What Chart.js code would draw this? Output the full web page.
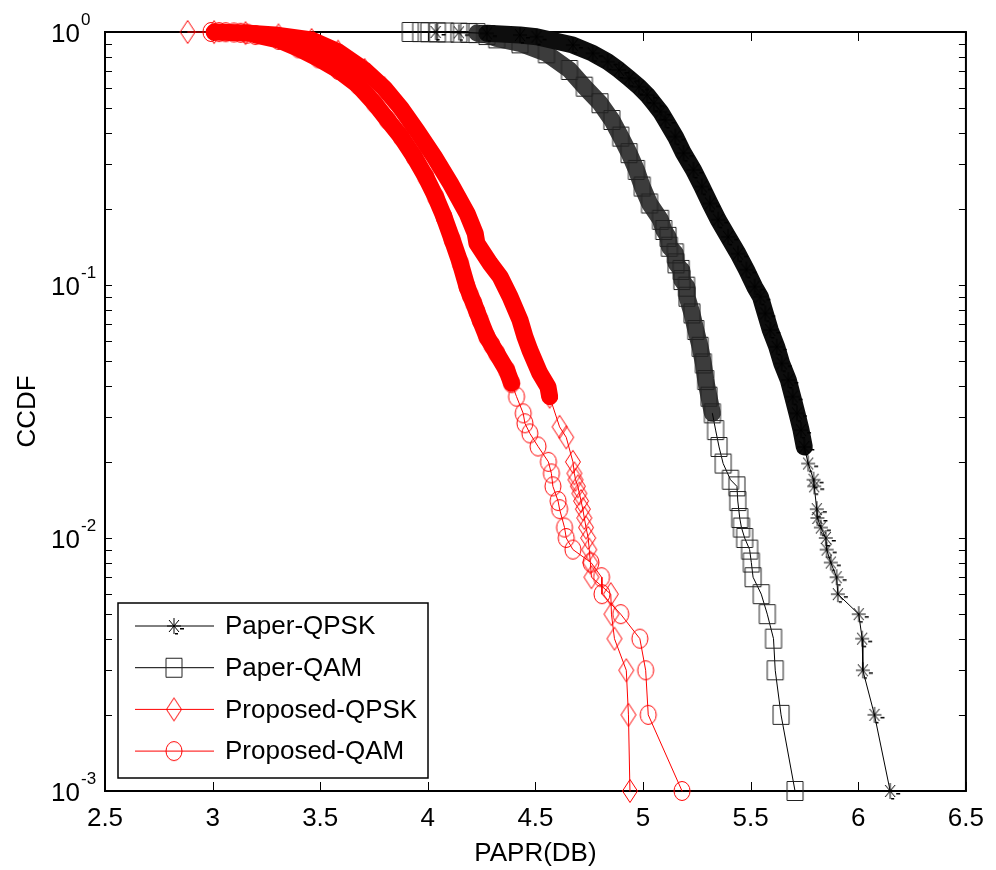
<!doctype html>
<html>
<head>
<meta charset="utf-8">
<title>CCDF of PAPR</title>
<script src="https://cdn.jsdelivr.net/npm/chart.js@4.4.1/dist/chart.umd.min.js"></script>
<style>
  body { margin: 0; background: #fff; overflow: hidden; }
</style>
</head>
<body>
<canvas id="ccdf" width="996" height="870"></canvas>
<script>
  // tick values
  const xTicks = [2.5, 3, 3.5, 4, 4.5, 5, 5.5, 6, 6.5];
  const yDecades = [0, -1, -2, -3];
  const seriesNames = ['Paper-QPSK', 'Paper-QAM', 'Proposed-QPSK', 'Proposed-QAM'];

  // PAPR (dB) and CCDF, top of each curve first
  const paperQpskX = [4.036, 4.144, 4.274, 4.428, 4.505, 4.674, 4.766, 4.835, 4.888, 4.935,
    4.981, 5.019, 5.050, 5.081, 5.104, 5.150, 5.188, 5.234, 5.273, 5.311,
    5.349, 5.395, 5.441, 5.480, 5.518, 5.545, 5.568, 5.591, 5.621, 5.644,
    5.675, 5.695, 5.715, 5.734, 5.749, 5.767, 5.792, 5.795, 5.807, 5.810,
    5.826, 5.849, 5.853, 5.872, 5.899, 5.905, 6.002, 6.018, 6.021, 6.075,
    6.148];
  const paperQpskY = [1.0, 0.997, 0.988, 0.973, 0.958, 0.888, 0.824, 0.763, 0.708, 0.656,
    0.608, 0.564, 0.523, 0.484, 0.449, 0.386, 0.332, 0.285, 0.245, 0.210,
    0.181, 0.155, 0.133, 0.115, 0.0985, 0.0899, 0.0772, 0.0664, 0.0570, 0.0490,
    0.0421, 0.0362, 0.0311, 0.0267, 0.0229, 0.0197, 0.017, 0.016, 0.013, 0.012,
    0.011, 0.010, 0.009, 0.008, 0.007, 0.006, 0.005, 0.004, 0.003, 0.002,
    0.001];

  const paperQamX = [3.918, 3.967, 4.005, 4.044, 4.082, 4.144, 4.190, 4.228, 4.274, 4.320,
    4.428, 4.551, 4.658, 4.727, 4.800, 4.855, 4.896, 4.935, 4.969, 4.996,
    5.030, 5.081, 5.096, 5.116, 5.122, 5.150, 5.153, 5.177, 5.180, 5.202,
    5.204, 5.227, 5.245, 5.265, 5.280, 5.291, 5.306, 5.322, 5.337, 5.353,
    5.372, 5.406, 5.436, 5.440, 5.449, 5.457, 5.472, 5.495, 5.503, 5.511,
    5.549, 5.577, 5.606, 5.614, 5.641, 5.706];
  const paperQamY = [1.0, 0.999, 0.998, 0.997, 0.996, 0.994, 0.992, 0.990, 0.973, 0.944,
    0.902, 0.824, 0.708, 0.608, 0.523, 0.449, 0.386, 0.332, 0.285, 0.245,
    0.210, 0.181, 0.165, 0.155, 0.1417, 0.1334, 0.1218, 0.1147, 0.1046, 0.0985,
    0.0899, 0.0772, 0.0664, 0.0570, 0.0490, 0.0421, 0.0362, 0.0311, 0.0267, 0.0229,
    0.0197, 0.017, 0.016, 0.014, 0.012, 0.011, 0.010, 0.009, 0.008, 0.007,
    0.006, 0.005, 0.004, 0.003, 0.002, 0.001];

  const propQpskX = [2.884, 3.007, 3.153, 3.306, 3.460, 3.583, 3.706, 3.798, 3.875, 3.952,
    4.029, 4.105, 4.182, 4.220, 4.228, 4.289, 4.336, 4.382, 4.428, 4.451,
    4.474, 4.520, 4.558, 4.566, 4.612, 4.643, 4.674, 4.681, 4.686, 4.697,
    4.704, 4.712, 4.720, 4.727, 4.735, 4.745, 4.750, 4.755, 4.760, 4.850,
    4.853, 4.867, 4.922, 4.932, 4.939];
  const propQpskY = [1.0, 0.999, 0.990, 0.970, 0.930, 0.836, 0.708, 0.599, 0.500, 0.404,
    0.322, 0.252, 0.192, 0.160, 0.146, 0.1218, 0.1078, 0.0899, 0.0727, 0.0625,
    0.0553, 0.0448, 0.0396, 0.0362, 0.0275, 0.025, 0.020, 0.018, 0.017, 0.016,
    0.015, 0.014, 0.013, 0.012, 0.011, 0.010, 0.009, 0.008, 0.007, 0.006,
    0.005, 0.004, 0.003, 0.002, 0.001];

  const propQamX = [2.992, 3.030, 3.061, 3.099, 3.130, 3.161, 3.199, 3.306, 3.399, 3.491,
    3.583, 3.675, 3.752, 3.813, 3.875, 3.936, 3.990, 4.036, 4.075, 4.113,
    4.151, 4.182, 4.197, 4.213, 4.228, 4.243, 4.274, 4.297, 4.320, 4.366,
    4.389, 4.412, 4.443, 4.451, 4.474, 4.512, 4.560, 4.574, 4.581, 4.605,
    4.612, 4.635, 4.643, 4.674, 4.758, 4.807, 4.809, 4.896, 4.985, 5.012,
    5.024, 5.181];
  const propQamY = [1.0, 0.999, 0.998, 0.996, 0.993, 0.985, 0.973, 0.930, 0.862, 0.787,
    0.708, 0.617, 0.523, 0.449, 0.386, 0.322, 0.268, 0.223, 0.186, 0.151,
    0.1218, 0.0985, 0.0913, 0.0847, 0.0785, 0.0727, 0.0625, 0.0579, 0.0537, 0.0461,
    0.0409, 0.0362, 0.0311, 0.0284, 0.0259, 0.023, 0.020, 0.018, 0.016, 0.014,
    0.013, 0.011, 0.010, 0.009, 0.008, 0.007, 0.006, 0.005, 0.004, 0.003,
    0.002, 0.001];

  const FONT = '"Liberation Sans", Arial, sans-serif';
  Chart.defaults.font.family = FONT;
  Chart.defaults.font.size = 26;
  Chart.defaults.color = '#000';

  // matlab-like hollow markers (the figure is a bit stretched vertically)
  function makeMarker(kind, color) {
    const c = document.createElement('canvas');
    c.width = 22; c.height = 26;
    const g = c.getContext('2d');
    const cx = 11, cy = 13;
    g.strokeStyle = color;
    g.fillStyle = color;
    g.lineWidth = 1;
    g.beginPath();
    if (kind === 'circle') {
      g.ellipse(cx, cy, 8, 9.5, 0, 0, Math.PI * 2);
    } else if (kind === 'square') {
      g.rect(cx - 8, cy - 9.5, 16, 19);
    } else if (kind === 'diamond') {
      g.moveTo(cx, cy - 11.5); g.lineTo(cx + 7.5, cy);
      g.lineTo(cx, cy + 11.5); g.lineTo(cx - 7.5, cy);
      g.closePath();
    } else {
      g.moveTo(cx - 7, cy); g.lineTo(cx + 7, cy);
      g.moveTo(cx, cy - 8); g.lineTo(cx, cy + 8);
      g.moveTo(cx - 5, cy - 6); g.lineTo(cx + 5, cy + 6);
      g.moveTo(cx - 5, cy + 6); g.lineTo(cx + 5, cy - 6);
      g.fillRect(cx + 6, cy + 2, 4, 1.5);
      g.fillRect(cx + 1, cy + 7, 3, 1.5);
    }
    g.stroke();
    return c;
  }

  const markers = [
    makeMarker('star', '#000'),
    makeMarker('square', '#222'),
    makeMarker('diamond', '#ff0000'),
    makeMarker('circle', '#ff0000')
  ];
  const lineColors = ['#000', '#000', '#ff0000', '#ff0000'];
  // where the markers pile up into a solid band: [upper, lower] CCDF and band colour
  const bandStyle = [
    { top: 0.988, bottom: 0.02, color: '#0d0d0d' },
    { top: 0.990, bottom: 0.028, color: '#3c3c3c' },
    { top: 0.999, bottom: 0.034, color: '#ff0000' },
    { top: 0.973, bottom: 0.04, color: '#ff0000' }
  ];
  const xs = [paperQpskX, paperQamX, propQpskX, propQamX];
  const ys = [paperQpskY, paperQamY, propQpskY, propQamY];

  const datasets = seriesNames.map((name, k) => {
    const b = bandStyle[k];
    const inBand = c => c.p0.parsed.y <= b.top && c.p1.parsed.y >= b.bottom;
    return {
      label: name,
      data: xs[k].map((x, i) => ({ x: x, y: ys[k][i] })),
      borderColor: lineColors[k],
      borderWidth: 1,
      borderJoinStyle: 'round',
      borderCapStyle: 'round',
      segment: {
        borderWidth: c => inBand(c) ? 17 : 1,
        borderColor: c => inBand(c) ? b.color : lineColors[k]
      },
      pointStyle: markers[k],
      pointRadius: 8,
      showLine: true,
      tension: 0,
      clip: false
    };
  });

  const frame = {
    id: 'frame',
    beforeDatasetsDraw(chart) {
      const { ctx, chartArea: a, scales: { x, y } } = chart;
      ctx.save();
      ctx.strokeStyle = '#000';
      ctx.lineWidth = 1;
      ctx.beginPath();
      xTicks.forEach(v => {
        const px = Math.round(x.getPixelForValue(v)) + 0.5;
        ctx.moveTo(px, a.bottom); ctx.lineTo(px, a.bottom - 9);
        ctx.moveTo(px, a.top); ctx.lineTo(px, a.top + 9);
      });
      for (let d = -3; d < 0; d++) {
        for (let m = 1; m <= 9; m++) {
          const py = Math.round(y.getPixelForValue(m * Math.pow(10, d))) + 0.5;
          ctx.moveTo(a.left, py); ctx.lineTo(a.left + 7, py);
          ctx.moveTo(a.right, py); ctx.lineTo(a.right - 7, py);
        }
      }
      ctx.stroke();
      ctx.lineWidth = 2;
      ctx.strokeRect(a.left, a.top, a.right - a.left, a.bottom - a.top);
      ctx.restore();
    },
    afterDraw(chart) {
      const { ctx, chartArea: a, scales: { y } } = chart;
      ctx.save();
      ctx.fillStyle = '#000';
      // y tick labels as 10^n
      yDecades.forEach(d => {
        const py = y.getPixelForValue(Math.pow(10, d));
        ctx.font = '26px ' + FONT;
        ctx.textAlign = 'right';
        ctx.textBaseline = 'alphabetic';
        ctx.fillText('10', a.left - 25, py + 10);
        ctx.font = '17px ' + FONT;
        ctx.textAlign = 'left';
        ctx.fillText(String(d), a.left - 24, py - 7);
      });

      // legend box in lower left corner
      const lx = a.left + 13, ly = a.bottom - 188, lw = 310, lh = 175;
      ctx.fillStyle = '#fff';
      ctx.fillRect(lx, ly, lw, lh);
      ctx.strokeStyle = '#000';
      ctx.lineWidth = 1.5;
      ctx.strokeRect(lx, ly, lw, lh);
      ctx.font = '26px ' + FONT;
      ctx.textAlign = 'left';
      ctx.textBaseline = 'middle';
      seriesNames.forEach((name, k) => {
        const ry = ly + 23 + k * 41.7;
        ctx.strokeStyle = lineColors[k];
        ctx.lineWidth = 1;
        ctx.beginPath();
        ctx.moveTo(lx + 17, ry); ctx.lineTo(lx + 96, ry);
        ctx.stroke();
        ctx.drawImage(markers[k], lx + 56 - 11, ry - 13);
        ctx.fillStyle = '#000';
        ctx.fillText(name, lx + 107, ry + 1);
      });
      ctx.restore();
    }
  };

  new Chart(document.getElementById('ccdf').getContext('2d'), {
    type: 'scatter',
    data: { datasets: datasets },
    options: {
      responsive: false,
      animation: false,
      devicePixelRatio: 1,
      events: [],
      layout: { padding: { top: 32, right: 23, left: 0, bottom: 0 } },
      plugins: { legend: { display: false }, tooltip: { enabled: false } },
      scales: {
        x: {
          type: 'linear',
          min: 2.5,
          max: 6.5,
          afterBuildTicks: s => { s.ticks = xTicks.map(v => ({ value: v })); },
          afterFit: s => { s.height = 79; },
          grid: { display: false, drawTicks: false },
          border: { display: false },
          ticks: { padding: 12, maxRotation: 0, autoSkip: false, callback: v => String(v) },
          title: { display: true, text: 'PAPR(DB)', padding: { top: 0, bottom: 1 } }
        },
        y: {
          type: 'logarithmic',
          min: 0.001,
          max: 1,
          afterFit: s => { s.width = 105; },
          grid: { display: false },
          border: { display: false },
          ticks: { display: false },
          title: { display: true, text: 'CCDF', padding: { top: 12, bottom: 0 } }
        }
      }
    },
    plugins: [frame]
  });
</script>
</body>
</html>
